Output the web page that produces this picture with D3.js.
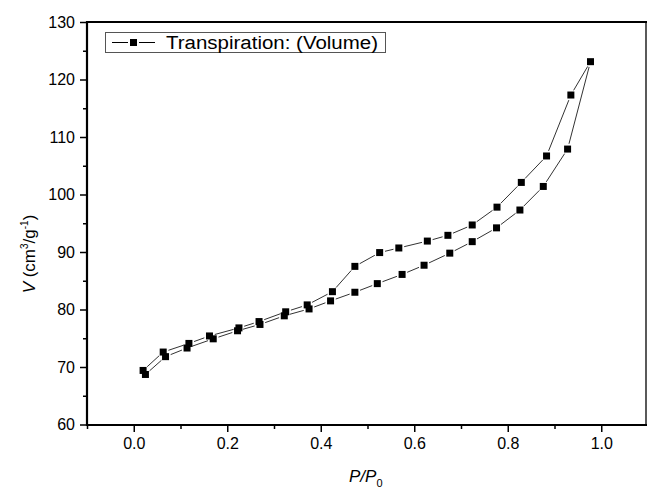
<!DOCTYPE html>
<html>
<head>
<meta charset="utf-8">
<script src="https://cdn.jsdelivr.net/npm/d3@7"></script>
<style>
  body { margin: 0; background: #fff; }
  svg { display: block; font-family: "Liberation Sans", Arial, sans-serif; }
  .axis text { font-size: 16px; fill: #000; }
  .axis path, .axis line { stroke: #000; }
</style>
</head>
<body>
<svg id="chart" width="647" height="488"></svg>
<script>
// adsorption branch (going up in pressure)
var adsP = [0.025, 0.068, 0.114, 0.170, 0.222, 0.270, 0.322, 0.375, 0.421, 0.473, 0.521, 0.574, 0.621, 0.676, 0.724, 0.776, 0.826, 0.876, 0.928, 0.977];
var adsV = [68.7, 71.8, 73.3, 74.9, 76.3, 77.4, 78.9, 80.1, 81.5, 83.0, 84.5, 86.1, 87.7, 89.8, 91.8, 94.2, 97.3, 101.4, 107.9, 123.1];
// desorption branch (coming back down)
var desP = [0.935, 0.883, 0.829, 0.777, 0.724, 0.672, 0.628, 0.567, 0.526, 0.473, 0.425, 0.371, 0.325, 0.268, 0.225, 0.162, 0.118, 0.063, 0.020];
var desV = [117.3, 106.7, 102.1, 97.8, 94.7, 92.9, 91.9, 90.7, 89.9, 87.5, 83.1, 80.8, 79.6, 77.9, 76.8, 75.4, 74.1, 72.6, 69.4];

var xTicks = [0.0, 0.2, 0.4, 0.6, 0.8, 1.0];
var yTicks = [60, 70, 80, 90, 100, 110, 120, 130];
var legendLabel = "Transpiration: (Volume)";

var data = adsP.map(function(p, i) { return { p: p, v: adsV[i] }; })
  .concat(desP.map(function(p, i) { return { p: p, v: desV[i] }; }));

var svg = d3.select("#chart");
var margin = { top: 22, left: 87 };
var plotRight = 646, plotBottom = 425;

var x = d3.scaleLinear().domain([-0.1, 1.1]).range([87, 648]);
var y = d3.scaleLinear().domain([60, 130]).range([424.5, 22]);

// minor ticks
var xMinor = d3.range(-0.1, 1.1001, 0.1).filter(function(d) { return Math.abs(Math.round(d * 10) % 2) === 1; });
var yMinor = d3.range(65, 130, 10);

svg.append("g")
    .attr("class", "axis")
    .attr("transform", "translate(0," + plotBottom + ")")
    .call(d3.axisBottom(x).tickValues(xMinor).tickSize(4).tickFormat(""))
    .call(function(g) { g.select(".domain").remove(); })
    .selectAll("line").attr("stroke-width", 1.5);

svg.append("g")
    .attr("class", "axis")
    .attr("transform", "translate(" + margin.left + ",0)")
    .call(d3.axisLeft(y).tickValues(yMinor).tickSize(4).tickFormat(""))
    .call(function(g) { g.select(".domain").remove(); })
    .selectAll("line").attr("stroke-width", 1.5);

var gx = svg.append("g")
    .attr("class", "axis")
    .attr("transform", "translate(0," + plotBottom + ")")
    .call(d3.axisBottom(x).tickValues(xTicks).tickSize(7).tickPadding(6).tickFormat(d3.format(".1f")));
gx.select(".domain").remove();
gx.selectAll("line").attr("stroke-width", 1.5);

var gy = svg.append("g")
    .attr("class", "axis")
    .attr("transform", "translate(" + margin.left + ",0)")
    .call(d3.axisLeft(y).tickValues(yTicks).tickSize(7).tickPadding(5).tickFormat(d3.format("d")));
gy.select(".domain").remove();
gy.selectAll("line").attr("stroke-width", 1.5);

// frame
svg.append("line").attr("x1", 87).attr("x2", 647).attr("y1", 22).attr("y2", 22)
  .attr("stroke", "#000").attr("stroke-width", 2.2);
svg.append("line").attr("x1", 87).attr("x2", 87).attr("y1", 21).attr("y2", 426)
  .attr("stroke", "#000").attr("stroke-width", 2.2);
svg.append("line").attr("x1", 86).attr("x2", 647).attr("y1", plotBottom).attr("y2", plotBottom)
  .attr("stroke", "#000").attr("stroke-width", 2.2);
svg.append("line").attr("x1", plotRight).attr("x2", plotRight).attr("y1", 22).attr("y2", 426)
  .attr("stroke", "#000").attr("stroke-width", 1.3);

// connecting segments with gaps at markers
var gap = 5.5;
var segs = [];
for (var i = 0; i < data.length - 1; i++) {
  var x1 = x(data[i].p), y1 = y(data[i].v), x2 = x(data[i + 1].p), y2 = y(data[i + 1].v);
  var dx = x2 - x1, dy = y2 - y1, len = Math.sqrt(dx * dx + dy * dy);
  if (len <= gap * 2) continue;
  var ux = dx / len, uy = dy / len;
  segs.push([x1 + ux * gap, y1 + uy * gap, x2 - ux * gap, y2 - uy * gap]);
}
svg.append("g").selectAll("line")
  .data(segs)
  .enter().append("line")
    .attr("x1", function(d) { return d[0]; })
    .attr("y1", function(d) { return d[1]; })
    .attr("x2", function(d) { return d[2]; })
    .attr("y2", function(d) { return d[3]; })
    .attr("stroke", "#333")
    .attr("stroke-width", 1);

var ms = 7;
svg.append("g").selectAll("rect")
  .data(data)
  .enter().append("rect")
    .attr("x", function(d) { return x(d.p) - ms / 2; })
    .attr("y", function(d) { return y(d.v) - ms / 2; })
    .attr("width", ms)
    .attr("height", ms)
    .attr("fill", "#000");

// legend
var lg = svg.append("g");
lg.append("rect").attr("x", 105.5).attr("y", 32.5).attr("width", 280).attr("height", 20)
  .attr("fill", "#fff").attr("stroke", "#555").attr("stroke-width", 1);
lg.append("line").attr("x1", 112).attr("x2", 128).attr("y1", 42.5).attr("y2", 42.5).attr("stroke", "#000");
lg.append("line").attr("x1", 139).attr("x2", 155).attr("y1", 42.5).attr("y2", 42.5).attr("stroke", "#000");
lg.append("rect").attr("x", 130).attr("y", 39).attr("width", 7).attr("height", 7).attr("fill", "#000");
lg.append("text").attr("x", 166).attr("y", 49).attr("font-size", 18)
  .attr("textLength", 212).attr("lengthAdjust", "spacingAndGlyphs")
  .text(legendLabel);

// axis titles
var xt = svg.append("text").attr("x", 349).attr("y", 482).attr("font-size", 17);
xt.append("tspan").attr("font-style", "italic").text("P/P");
xt.append("tspan").attr("font-size", 11).attr("dy", 5).text("0");

var yt = svg.append("text")
  .attr("transform", "translate(35,254) rotate(-90)")
  .attr("text-anchor", "middle")
  .attr("font-size", 17);
yt.append("tspan").attr("font-style", "italic").text("V");
yt.append("tspan").text(" (cm");
yt.append("tspan").attr("font-size", 10).attr("dy", -7).text("3");
yt.append("tspan").attr("dy", 7).text("/g");
yt.append("tspan").attr("font-size", 10).attr("dy", -7).text("-1");
yt.append("tspan").attr("dy", 7).text(")");
</script>
</body>
</html>
